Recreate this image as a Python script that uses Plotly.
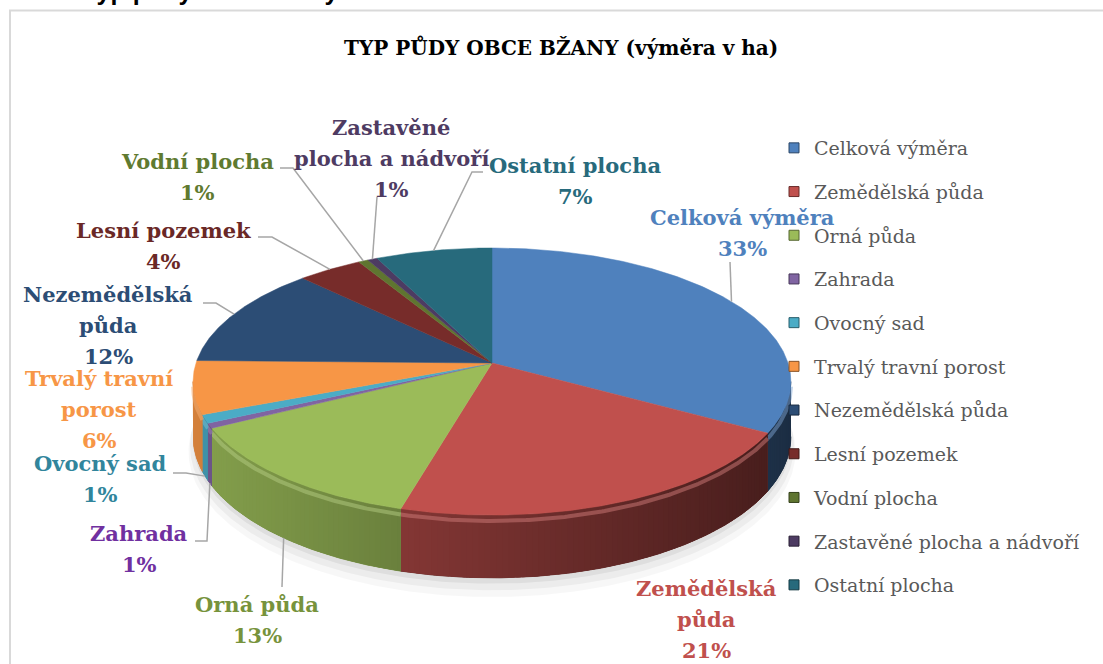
import numpy as np
import plotly.graph_objects as go

# ---------------- data ----------------
categories = ["Celková výměra", "Zemědělská půda", "Orná půda", "Zahrada", "Ovocný sad",
              "Trvalý travní porost", "Nezemědělská půda", "Lesní pozemek", "Vodní plocha",
              "Zastavěné plocha a nádvoří", "Ostatní plocha"]
shares = [33.3, 21.0, 13.0, 0.6, 1.0, 6.4, 12.3, 4.0, 0.6, 0.6, 7.2]

# ---------------- styles ----------------
slice_colors = ["#4F81BD", "#C0504D", "#9BBB59", "#8064A2", "#4BACC6", "#F79646",
                "#2C4D75", "#772C2A", "#5F7530", "#4D3B62", "#276A7C"]
label_colors = ["#4F81BD", "#C0504D", "#77933C", "#7030A0", "#31859C", "#F79646",
                "#2C4D75", "#6A2826", "#5F7A30", "#4E3B62", "#276A7C"]
# wrapped label names (as shown on chart)
label_lines = [["Celková výměra"], ["Zemědělská", "půda"], ["Orná půda"], ["Zahrada"],
               ["Ovocný sad"], ["Trvalý travní", "porost"], ["Nezemědělská", "půda"],
               ["Lesní pozemek"], ["Vodní plocha"], ["Zastavěné", "plocha a nádvoří"],
               ["Ostatní plocha"]]
# label block positions (center x, first line center y) in pixels
label_pos = [(742, 217), (706, 588), (257, 604), (139, 533), (100, 463), (99, 378),
             (108, 294), (163, 230), (197, 161), (391, 127), (575, 165)]
LINE_H = 31.0
# leader line start points (label side); None = no leader
leader_start = [[(730, 262)], None, [(282, 587)], [(195, 541), (207, 541)],
                [(173, 473), (186, 473)], None, [(203, 303), (216, 303)],
                [(258, 237), (272, 237)], [(280, 168), (293, 168)], [(377, 197)],
                [(483, 172), (472, 172)]]

W, HGT = 1103, 664
CX, CY = 492, 363      # pie centre (pixels)
A, C, E = 296, 131, 0.139   # horizontal radius, vertical radius, perspective
TH = 54                 # thickness


def rim(theta, z=0.0, k=1.0):
    t = np.radians(theta)
    u, v = k * np.sin(t), k * np.cos(t)
    s = 1.0 / (1.0 + E * v)
    return CX + A * u * s, CY - C * v * s + z * s


def scale(hexc, f):
    h = hexc.lstrip("#")
    r, g, b = (int(h[i:i + 2], 16) for i in (0, 2, 4))
    return "rgb(%d,%d,%d)" % tuple(max(0, min(255, int(c * f))) for c in (r, g, b))


def lighten(hexc, f):
    h = hexc.lstrip("#")
    r, g, b = (int(h[i:i + 2], 16) for i in (0, 2, 4))
    return "rgb(%d,%d,%d)" % tuple(int(c + (255 - c) * f) for c in (r, g, b))


total = sum(shares)
bounds = np.concatenate([[0], np.cumsum(shares)]) / total * 360.0

ths = np.linspace(0, 360, 3601)
xs_all, _ = rim(ths)
th_r = ths[np.argmax(np.where(ths <= 180, xs_all, -1e9))]
th_l = ths[np.argmin(np.where(ths >= 180, xs_all, 1e9))]
x_left, x_right = xs_all.min(), xs_all.max()


def side_factor(theta):
    xm, _ = rim(theta)
    xn = (xm - x_left) / (x_right - x_left)
    return 0.86 - 0.5 * xn


fig = go.Figure()

# soft shadow under the pie (front part only)
for k, z, a in [(1.015, TH + 14, 0.03), (1.01, TH + 9, 0.045), (1.0, TH + 5, 0.06)]:
    t = np.linspace(th_r - 10, th_l + 10, 200)
    bx, by = rim(t, z, k)
    tx, ty = rim(t[::-1], TH - 20, 0.99)
    fig.add_trace(go.Scatter(x=np.concatenate([bx, tx]), y=np.concatenate([by, ty]),
                             fill="toself", mode="lines", line=dict(width=0),
                             fillcolor="rgba(0,0,0,%.3f)" % a,
                             hoverinfo="skip", showlegend=False))

# side walls (shaded strips over a solid underlay)
for i, col in enumerate(slice_colors):
    t1, t2 = max(bounds[i], th_r), min(bounds[i + 1], th_l)
    if t2 <= t1:
        continue
    tt = np.linspace(t1, t2, max(3, int((t2 - t1) * 2)))
    xt, yt = rim(tt, 0)
    xb, yb = rim(tt[::-1], TH)
    cu = scale(col, side_factor((t1 + t2) / 2))
    fig.add_trace(go.Scatter(x=np.concatenate([xt, xb]), y=np.concatenate([yt, yb]),
                             fill="toself", mode="lines", line=dict(width=0.8, color=cu),
                             fillcolor=cu, hoverinfo="skip", showlegend=False))
    n = max(1, int(np.ceil((t2 - t1) / 1.0)))
    edges = np.linspace(t1, t2, n + 1)
    for j in range(n):
        a0 = max(t1, edges[j] - 0.35)
        a1 = min(t2, edges[j + 1] + 0.35)
        ts = np.linspace(a0, a1, 3)
        sx1, sy1 = rim(ts, 0)
        sx2, sy2 = rim(ts[::-1], TH)
        c = scale(col, side_factor((edges[j] + edges[j + 1]) / 2))
        fig.add_trace(go.Scatter(x=np.concatenate([sx1, sx2]), y=np.concatenate([sy1, sy2]),
                                 fill="toself", mode="lines", line=dict(width=0),
                                 fillcolor=c, hoverinfo="skip", showlegend=False))
    # bevel highlight on the top edge of the side
    hx, hy = rim(tt, 5)
    fig.add_trace(go.Scatter(x=hx, y=hy, mode="lines",
                             line=dict(width=4, color=lighten(col, 0.25)), opacity=0.5,
                             hoverinfo="skip", showlegend=False))

# top faces
for i, col in enumerate(slice_colors):
    t1, t2 = bounds[i], bounds[i + 1]
    tt = np.linspace(t1, t2, max(3, int((t2 - t1) * 2) + 2))
    rx, ry = rim(tt)
    px = np.concatenate([[CX], rx, [CX]])
    py = np.concatenate([[CY], ry, [CY]])
    fig.add_trace(go.Scatter(x=px, y=py, fill="toself", mode="lines",
                             line=dict(width=0.5, color=col), fillcolor=col,
                             name=categories[i], hoverinfo="name", showlegend=False))

# leader lines
for i, pts in enumerate(leader_start):
    if pts is None:
        continue
    mid = (bounds[i] + bounds[i + 1]) / 2
    if th_r <= mid <= th_l:
        ex, ey = rim(mid, TH)
    else:
        ex, ey = rim(mid, 0)
    lx = [p[0] for p in pts] + [float(ex)]
    ly = [p[1] for p in pts] + [float(ey)]
    fig.add_trace(go.Scatter(x=lx, y=ly, mode="lines", line=dict(color="#A6A6A6", width=1.5),
                             hoverinfo="skip", showlegend=False))

# legend entries
for i, cat in enumerate(categories):
    fig.add_trace(go.Scatter(x=[None], y=[None], mode="markers", name=cat, legendgroup=cat,
                             marker=dict(symbol="square", size=10, color=slice_colors[i],
                                         line=dict(color=scale(slice_colors[i], 0.55), width=1)),
                             showlegend=True))

annotations = []
# data labels
for i in range(len(categories)):
    pct = shares[i] / total * 100
    lines = label_lines[i] + ["%d%%" % int(pct + 0.5)]
    x0, y0 = label_pos[i]
    for j, txt in enumerate(lines):
        annotations.append(dict(x=x0, y=y0 + j * LINE_H, xref="x", yref="y", text=txt,
                                showarrow=False, xanchor="center", yanchor="middle",
                                font=dict(family="DejaVu Serif", size=21, weight="bold",
                                          color=label_colors[i])))
# chart title
annotations.append(dict(x=561, y=47, xref="x", yref="y", text="TYP PŮDY OBCE BŽANY (výměra v ha)",
                        showarrow=False, xanchor="center", yanchor="middle",
                        font=dict(family="DejaVu Serif", size=20, weight="bold", color="#000000")))
# caption above the chart (cut off at top)
annotations.append(dict(x=2, y=7, xref="x", yref="y", text="Graf 1 Typ půdy obce Bžany",
                        showarrow=False, xanchor="left", yanchor="bottom",
                        font=dict(family="Liberation Sans", size=25, weight="bold", color="#000000")))

fig.update_layout(
    width=W, height=HGT, margin=dict(l=0, r=0, t=0, b=0),
    paper_bgcolor="white", plot_bgcolor="white",
    xaxis=dict(range=[0, W], visible=False, fixedrange=True),
    yaxis=dict(range=[HGT, 0], visible=False, fixedrange=True),
    annotations=annotations,
    shapes=[dict(type="rect", xref="x", yref="y", x0=10, y0=10.5, x1=W + 20, y1=HGT + 20,
                 line=dict(color="#D9D9D9", width=2), fillcolor="rgba(0,0,0,0)", layer="below")],
    legend=dict(x=774 / W, y=1 - 129 / HGT, xanchor="left", yanchor="top",
                font=dict(family="DejaVu Serif", size=19, color="#595959"),
                tracegroupgap=16, bgcolor="rgba(0,0,0,0)", traceorder="grouped"),
    showlegend=True,
)

fig.write_html("out.html")
